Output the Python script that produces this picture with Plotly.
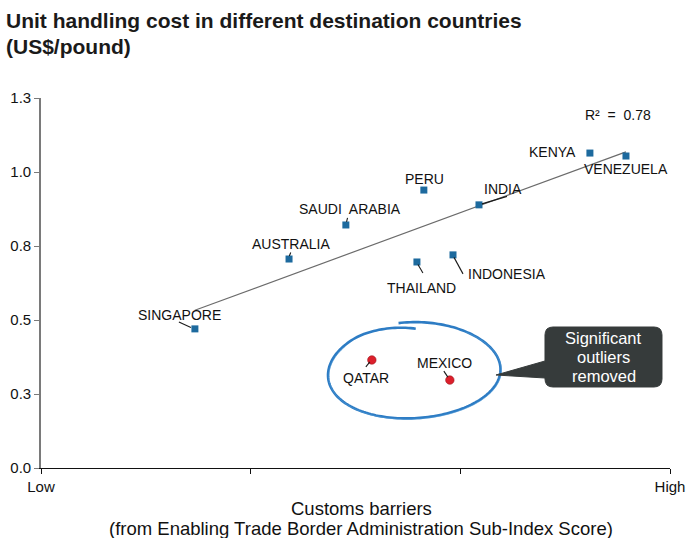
import numpy as np
import plotly.graph_objects as go

# --- data -------------------------------------------------------------
countries = ["SINGAPORE", "AUSTRALIA", "SAUDI  ARABIA", "THAILAND", "PERU",
             "INDONESIA", "INDIA", "KENYA", "VENEZUELA"]
barrier_score = [0.734, 1.183, 1.454, 1.793, 1.826, 1.965, 2.089, 2.618, 2.790]
handling_cost = [0.470, 0.706, 0.821, 0.696, 0.939, 0.720, 0.889, 1.064, 1.054]

outliers = ["QATAR", "MEXICO"]
outlier_score = [1.578, 1.950]
outlier_cost = [0.365, 0.297]

x_tick_vals = [0, 1, 2, 3]
x_tick_text = ["Low", "", "", "High"]
y_tick_vals = [0, 0.25, 0.5, 0.75, 1.0, 1.25]

title_lines = ["Unit handling cost in different destination countries", "(US$/pound)"]
x_title_lines = ["Customs barriers",
                 "(from Enabling Trade Border Administration Sub-Index Score)"]
callout_lines = ["Significant", "outliers", "removed"]

# --- layout geometry (pixels) ------------------------------------------
W, H = 689, 538
ML, MR, MT, MB = 41, 19, 98, 70
PW, PH = W - ML - MR, H - MT - MB
FONT = "Liberation Sans, Arial, Helvetica, sans-serif"
TXT = "#111111"


def paper(px, py):
    """Page pixel -> paper coordinates."""
    return (px - ML) / PW, (H - MB - py) / PH


def P(a, b):
    u, v = paper(a, b)
    return f"{u:.5f},{v:.5f}"


# label offsets: text centre (dx, dy) and optional leader segment, in px (screen, y down)
label_style = {
    "SINGAPORE": ((-15, -14), ((-16, -7), (-4, -1.5))),
    "AUSTRALIA": ((2, -15), ((1.7, -6.5), (0.3, -3))),
    "SAUDI  ARABIA": ((4, -16), ((1.7, -7), (0.7, -3))),
    "THAILAND": ((5, 26), ((1, 2.5), (6, 11))),
    "PERU": ((1, -11), None),
    "INDONESIA": ((54, 19), ((1, 2.5), (10, 19))),
    "INDIA": ((24, -16), ((3, -1), (28, -8.5))),
    "KENYA": ((-37.5, -1), None),
    "VENEZUELA": ((0, 13), None),
    "QATAR": ((-6, 18), ((-6, 7), (-2, 2))),
    "MEXICO": ((-5, -17.5), ((-6, -9), (-2, -3))),
}

# --- linear fit over the retained countries -----------------------------
xs = np.array(barrier_score)
ys = np.array(handling_cost)
slope, intercept = np.polyfit(xs, ys, 1)
fit_x = np.array([xs.min(), xs.max()])
fit_y = slope * fit_x + intercept
r2 = np.corrcoef(xs, ys)[0, 1] ** 2

fig = go.Figure()

fig.add_trace(go.Scatter(
    x=fit_x, y=fit_y, mode="lines",
    line=dict(color="#6b6b6b", width=1.2),
    hoverinfo="skip", showlegend=False,
))
fig.add_trace(go.Scatter(
    x=barrier_score, y=handling_cost, mode="markers", text=countries,
    marker=dict(symbol="square", size=7, color="#1d6a9e"),
    showlegend=False,
))
fig.add_trace(go.Scatter(
    x=outlier_score, y=outlier_cost, mode="markers", text=outliers,
    marker=dict(symbol="circle", size=8.5, color="#dc1f2b",
                line=dict(color="#9e1a20", width=0.6)),
    showlegend=False,
))

annotations = []
shapes = []

all_names = countries + outliers
all_x = barrier_score + outlier_score
all_y = handling_cost + outlier_cost
for name, x, y in zip(all_names, all_x, all_y):
    (dx, dy), leader = label_style[name]
    annotations.append(dict(
        x=x, y=y, xref="x", yref="y", text=name, showarrow=False,
        xshift=dx, yshift=-dy, xanchor="center", yanchor="middle",
        font=dict(family=FONT, size=14, color=TXT),
    ))
    if leader is not None:
        (x0, y0), (x1, y1) = leader
        shapes.append(dict(
            type="line", xref="x", yref="y",
            xsizemode="pixel", ysizemode="pixel", xanchor=x, yanchor=y,
            x0=x0, y0=-y0, x1=x1, y1=-y1,
            line=dict(color="#1a1a1a", width=1.1),
        ))

# R squared of the fit
rx_, ry_ = paper(618, 115)
annotations.append(dict(
    x=rx_, y=ry_, xref="paper", yref="paper", showarrow=False,
    text=f"R\u00b2\u00a0\u00a0=\u00a0\u00a0{r2:.2f}", xanchor="center", yanchor="middle",
    font=dict(family=FONT, size=14, color=TXT),
))

# hand-drawn ring around the removed outliers: one pen stroke that starts on
# the outside near the top and finishes slightly inside it
cx, cy, erx, ery = 413, 371, 85, 47
t = np.linspace(-np.pi / 2 - 0.14, 3 * np.pi / 2 + 0.06, 200)
prog = (t - t[0]) / (t[-1] - t[0])
wob = 1 + 0.012 * np.sin(3 * t + 0.6)
tail = np.clip((prog - 0.88) / 0.12, 0, 1)
scale = (1.03 - 0.03 * prog - 0.11 * tail ** 1.5) * wob
rot = np.deg2rad(-2.5)
ex = erx * np.cos(t) * scale
ey = ery * np.sin(t) * scale
px = cx + ex * np.cos(rot) - ey * np.sin(rot)
py = cy + ex * np.sin(rot) + ey * np.cos(rot)
ring = " ".join(("M" if i == 0 else "L") + P(a, b) for i, (a, b) in enumerate(zip(px, py)))
shapes.append(dict(type="path", xref="paper", yref="paper", path=ring,
                   line=dict(color="#2d7cc4", width=2.6)))
ring2 = " ".join(("M" if i == 0 else "L") + P(a, b)
                 for i, (a, b) in enumerate(zip(px[25:170] + 0.9, py[25:170] + 0.9)))
shapes.append(dict(type="path", xref="paper", yref="paper", path=ring2,
                   line=dict(color="rgba(80,155,215,0.55)", width=1.0)))

# call-out box with pointer
bl, br, bt, bb, rr = 545, 662, 327, 387, 8
box = (f"M{P(bl + rr, bt)} L{P(br - rr, bt)} Q{P(br, bt)} {P(br, bt + rr)} "
       f"L{P(br, bb - rr)} Q{P(br, bb)} {P(br - rr, bb)} L{P(bl + rr, bb)} "
       f"Q{P(bl, bb)} {P(bl, bb - rr)} L{P(bl, 378)} L{P(496, 375)} L{P(bl, 361)} "
       f"L{P(bl, bt + rr)} Q{P(bl, bt)} {P(bl + rr, bt)} Z")
shapes.append(dict(type="path", xref="paper", yref="paper", path=box,
                   fillcolor="#363b3b", line=dict(color="#363b3b", width=1)))
for line_text, ly in zip(callout_lines, [338, 357, 376]):
    u, v = paper(603.5, ly)
    annotations.append(dict(
        x=u, y=v, xref="paper", yref="paper", showarrow=False, text=line_text,
        xanchor="center", yanchor="middle",
        font=dict(family=FONT, size=16.5, color="white"),
    ))

# axis title lines
for line_text, ly in zip(x_title_lines, [508, 528]):
    u, v = paper(361, ly)
    annotations.append(dict(
        x=u, y=v, xref="paper", yref="paper", showarrow=False, text=line_text,
        xanchor="center", yanchor="middle",
        font=dict(family=FONT, size=18.5, color=TXT),
    ))

# chart title lines
for line_text, ly in zip(title_lines, [21, 46]):
    u, v = paper(4, ly)
    annotations.append(dict(
        x=u, y=v, xref="paper", yref="paper", showarrow=False, text=line_text,
        xanchor="left", yanchor="middle",
        font=dict(family=FONT, size=21, color="#1a1a1a", weight="bold"),
    ))

fig.update_layout(
    width=W, height=H,
    margin=dict(l=ML, r=MR, t=MT, b=MB, pad=0, autoexpand=False),
    paper_bgcolor="white", plot_bgcolor="white",
    xaxis=dict(
        range=[0, 3], tickvals=x_tick_vals, ticktext=x_tick_text,
        showgrid=False, zeroline=False, showline=True, automargin=False,
        linecolor="#111111", linewidth=1.2,
        ticks="outside", ticklen=5, tickcolor="#111111", tickwidth=1,
        tickfont=dict(family=FONT, size=15, color=TXT),
    ),
    yaxis=dict(
        range=[0, 1.25], tickvals=y_tick_vals, tickformat=".1f",
        showgrid=False, zeroline=False, showline=True, automargin=False,
        linecolor="#7a7a7a", linewidth=1.6,
        ticks="outside", ticklen=5, tickcolor="#7a7a7a", tickwidth=1,
        tickfont=dict(family=FONT, size=15, color=TXT),
    ),
    annotations=annotations,
    shapes=shapes,
)

fig.write_html("out.html")
